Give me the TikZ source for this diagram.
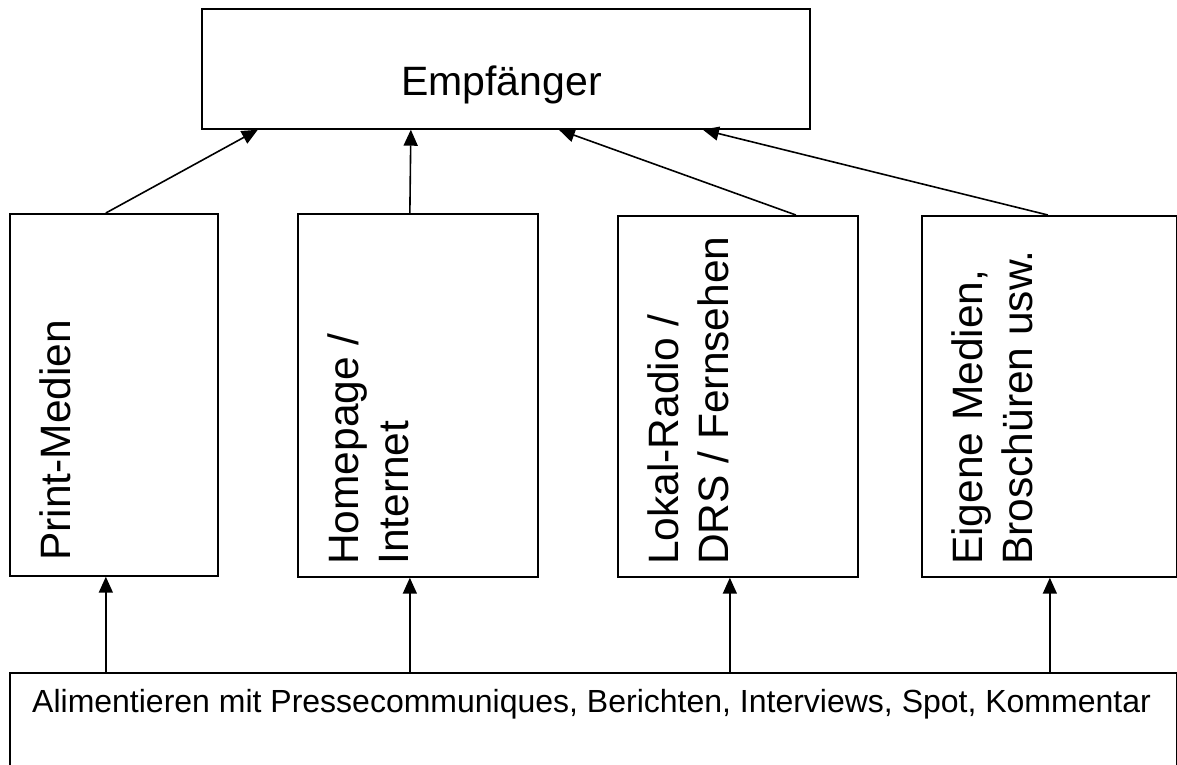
\documentclass[tikz,border=0pt]{standalone}
\usepackage{fontspec}
\setmainfont{Liberation Sans}
\usetikzlibrary{arrows.meta}
\begin{document}
\begin{tikzpicture}[x=1pt,y=-1pt,
  box/.style={draw, line width=1.7pt, inner sep=0pt, anchor=north west},
  lbl/.style={font=\fontsize{41}{49}\selectfont, inner sep=0pt, anchor=base west},
  vlbl/.style={font=\fontsize{42.5}{50}\selectfont, inner sep=0pt, anchor=base west, rotate=90},
  small/.style={font=\fontsize{32}{38}\selectfont, inner sep=0pt, anchor=base west},
  arr/.style={line width=1.6pt, -{Triangle[length=16pt,width=14pt]}}]
\useasboundingbox (0,0) rectangle (1177,764);
% boxes
\node[box, minimum width=608pt, minimum height=120pt] (emp) at (201,8) {};
\node[box, minimum width=208pt, minimum height=362pt] (b1) at (9,213) {};
\node[box, minimum width=240pt, minimum height=363pt] (b2) at (297,213) {};
\node[box, minimum width=240pt, minimum height=361pt] (b3) at (617,215) {};
\node[box, minimum width=255pt, minimum height=361pt] (b4) at (921,215) {};
\node[box, minimum width=1167pt, minimum height=130pt] (bot) at (9,672) {};
% texts
\node[lbl] (tEmp) at (401,95) {Empfänger};
\node[vlbl] (t1) at (70,561) {Print-Medien};
\node[vlbl] (t2a) at (358,565) {Homepage /};
\node[vlbl] (t2b) at (408,565) {Internet};
\node[vlbl] (t3a) at (678,565) {Lokal-Radio /};
\node[vlbl] (t3b) at (728,565) {DRS / Fernsehen};
\node[vlbl] (t4a) at (982,565) {Eigene Medien,};
\node[vlbl] (t4b) at (1032,565) {Broschüren usw.};
\node[small] (tBot) at (32,712) {Alimentieren mit Pressecommuniques, Berichten, Interviews, Spot, Kommentar};
% connectors to Empfänger
\draw[arr] ([xshift=-8pt]b1.north) -- ([xshift=-248pt]emp.south);
\draw[arr] ([xshift=-8pt]b2.north) -- ([xshift=-95pt]emp.south);
\draw[arr] ([xshift=58pt]b3.north) -- ([xshift=53pt]emp.south);
\draw[arr] ([xshift=-1.5pt]b4.north) -- ([xshift=197pt]emp.south);
% connectors from bottom box
\draw[arr] ([xshift=-8pt]b1.south |- bot.north) -- ([xshift=-8pt]b1.south);
\draw[arr] ([xshift=-8pt]b2.south |- bot.north) -- ([xshift=-8pt]b2.south);
\draw[arr] ([xshift=-8pt]b3.south |- bot.north) -- ([xshift=-8pt]b3.south);
\draw[arr] ([xshift=0.5pt]b4.south |- bot.north) -- ([xshift=0.5pt]b4.south);
\end{tikzpicture}
\end{document}
